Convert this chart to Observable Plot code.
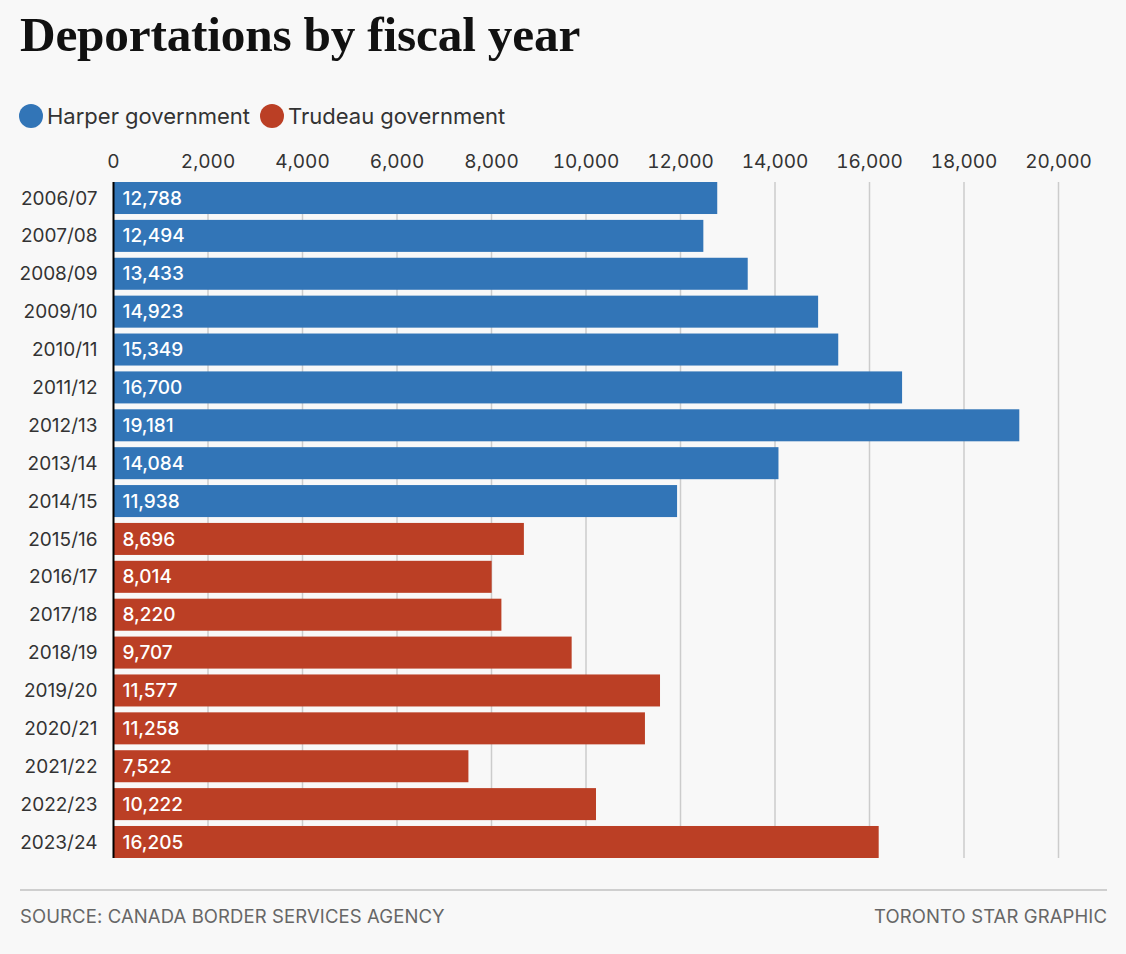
<!DOCTYPE html>
<html>
<head>
<meta charset="utf-8">
<script src="https://cdn.jsdelivr.net/npm/d3@7"></script>
<script src="https://cdn.jsdelivr.net/npm/@observablehq/plot@0.6"></script>
<style>
  html, body { margin: 0; padding: 0; background: #f8f8f8; }
  body { width: 1126px; height: 954px; position: relative; overflow: hidden; font-family: Inter, "Noto Sans", sans-serif; }
  #title { position: absolute; left: 20px; top: 6px; margin: 0; font-family: "Liberation Serif", "DejaVu Serif", serif; font-weight: 700; font-size: 49.3px; color: #111; letter-spacing: -0.2px; }
  #legend { position: absolute; left: 19px; top: 103px; display: flex; align-items: center; font-size: 22px; color: #333; }
  #legend .sw { width: 24px; height: 24px; border-radius: 50%; display: inline-block; margin-right: 4px; }
  #legend .item { display: flex; align-items: center; margin-right: 10px; }
  #chart { position: absolute; left: 0; top: 140px; }
  #rule { position: absolute; left: 20px; top: 889px; width: 1087px; height: 1.5px; background: #cfcfcf; }
  .foot { position: absolute; top: 905px; font-size: 18.5px; color: #666; letter-spacing: 0.1px; }
</style>
</head>
<body>
<h1 id="title">Deportations by fiscal year</h1>
<div id="legend"></div>
<div id="chart"></div>
<div id="rule"></div>
<div class="foot" id="source" style="left:20px;"></div>
<div class="foot" id="credit" style="right:19px;"></div>
<script>
const years = ["2006/07","2007/08","2008/09","2009/10","2010/11","2011/12","2012/13","2013/14","2014/15","2015/16","2016/17","2017/18","2018/19","2019/20","2020/21","2021/22","2022/23","2023/24"];
const deportations = [12788,12494,13433,14923,15349,16700,19181,14084,11938,8696,8014,8220,9707,11577,11258,7522,10222,16205];
const governments = ["Harper","Harper","Harper","Harper","Harper","Harper","Harper","Harper","Harper","Trudeau","Trudeau","Trudeau","Trudeau","Trudeau","Trudeau","Trudeau","Trudeau","Trudeau"];
const seriesNames = ["Harper", "Trudeau"];
const seriesLabels = ["Harper government", "Trudeau government"];
const seriesColors = ["#3275b7", "#bb3f25"];
const xTicks = [0,2000,4000,6000,8000,10000,12000,14000,16000,18000,20000];
const titleText = "Deportations by fiscal year";
const sourceText = "SOURCE: CANADA BORDER SERVICES AGENCY";
const creditText = "TORONTO STAR GRAPHIC";

document.getElementById("title").textContent = titleText;
document.getElementById("source").textContent = sourceText;
document.getElementById("credit").textContent = creditText;

const legend = document.getElementById("legend");
seriesNames.forEach((s, i) => {
  const it = document.createElement("div");
  it.className = "item";
  it.innerHTML = `<span class="sw" style="background:${seriesColors[i]}"></span><span>${seriesLabels[i]}</span>`;
  legend.appendChild(it);
});

const data = years.map((y, i) => ({year: y, value: deportations[i], gov: governments[i]}));

const chart = Plot.plot({
  width: 1126,
  height: 725,
  marginLeft: 113,
  marginRight: 68,
  marginTop: 42,
  marginBottom: 7,
  style: {background: "transparent", fontFamily: "Inter, 'Noto Sans', sans-serif", fontSize: "19px", color: "#333"},
  x: {domain: [0, 20000]},
  y: {domain: years, paddingInner: 0.155, paddingOuter: 0, round: false},
  color: {domain: seriesNames, range: seriesColors},
  marks: [
    Plot.ruleX(xTicks.slice(1), {stroke: "#cccccc", strokeWidth: 1.5, strokeOpacity: 1}),
    Plot.axisX({anchor: "top", ticks: xTicks, tickSize: 0, tickPadding: 15, tickFormat: d3.format(","), label: null, fontSize: 19, fill: "#333"}),
    Plot.axisY({tickSize: 0, tickPadding: 16, label: null, fontSize: 19, fill: "#333"}),
    Plot.barX(data, {x: "value", y: "year", fill: "gov"}),
    Plot.text(data, {x: 0, y: "year", text: d => d3.format(",")(d.value), dx: 9, textAnchor: "start", fill: "white", fontSize: 19, fontWeight: 500}),
    Plot.ruleX([0], {stroke: "#000", strokeWidth: 2})
  ]
});
document.getElementById("chart").appendChild(chart);
</script>
</body>
</html>
